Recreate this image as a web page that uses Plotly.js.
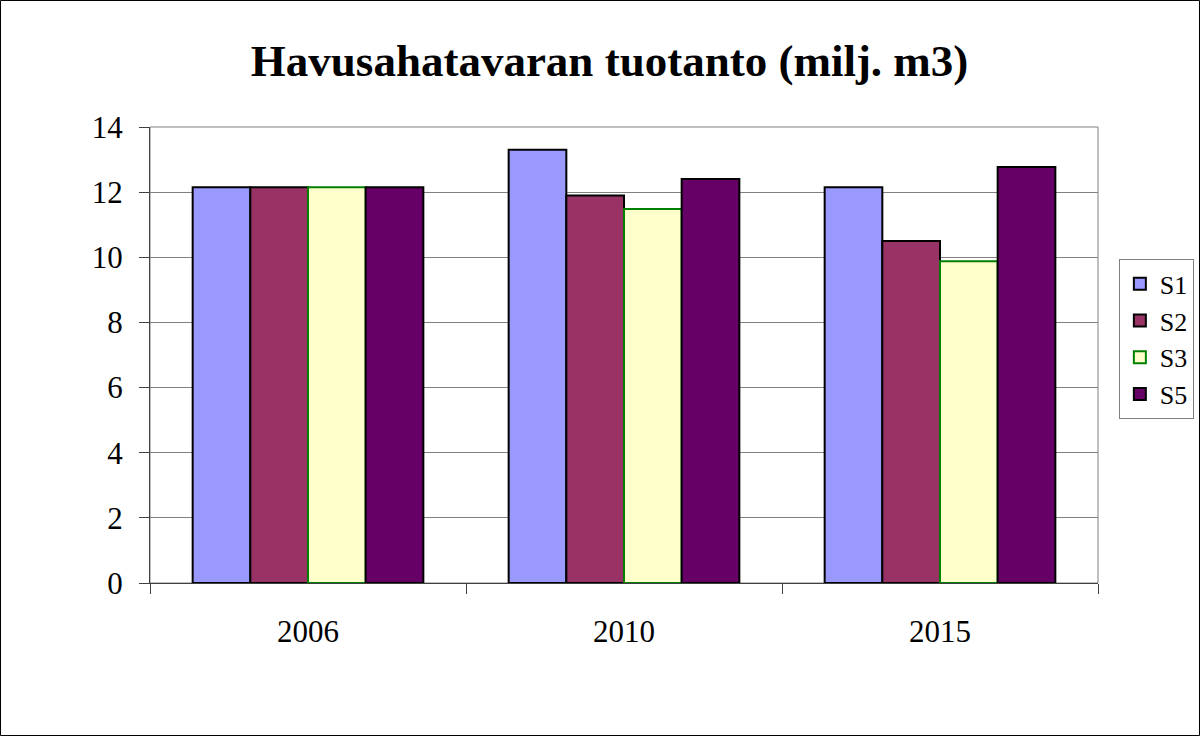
<!DOCTYPE html>
<html>
<head>
<meta charset="utf-8">
<script src="https://cdn.plot.ly/plotly-3.0.1.min.js"></script>
<style>
  body { margin: 0; background: #fff; overflow: hidden; }
  #chart { width: 1200px; height: 736px; }
</style>
</head>
<body>
<div id="chart"></div>
<script>
CHART = document.getElementById('chart');

// vuodet ja skenaariot
var years = ['2006', '2010', '2015'];
var seriesNames = ['S1', 'S2', 'S3', 'S5'];
var s1 = [12.15, 13.3, 12.15];
var s2 = [12.15, 11.9, 10.5];
var s3 = [12.15, 11.48, 9.88];
var s5 = [12.15, 12.4, 12.77];
var yTicks = [0, 2, 4, 6, 8, 10, 12, 14];

var fills = ['#9999FF', '#993366', '#FFFFCC', '#660066'];
var edges = ['#000000', '#000000', '#008000', '#000000'];
var values = [s1, s2, s3, s5];

var data = seriesNames.map(function (name, i) {
    return {
        x: years,
        y: values[i],
        type: 'bar',
        name: name,
        marker: {
            color: fills[i],
            line: {color: edges[i], width: 2}
        },
        hoverinfo: 'x+y+name'
    };
});

// marginaalit plot-alueen ympärillä
var m = {l: 150, r: 102, t: 127, b: 153, autoexpand: false};
var pw = 1200 - m.l - m.r;
var ph = 736 - m.t - m.b;

var layout = {
    width: 1200,
    height: 736,
    title: {
        text: '<b>Havusahatavaran tuotanto (milj. m3)</b>',
        font: {family: 'Liberation Serif, serif', size: 45, color: '#000'},
        x: 0.508,
        xanchor: 'center',
        xref: 'container',
        yref: 'container',
        y: 0.918,
        yanchor: 'middle'
    },
    font: {family: 'Liberation Serif, serif', size: 31, color: '#000'},
    paper_bgcolor: '#fff',
    plot_bgcolor: '#fff',
    margin: m,
    barmode: 'group',
    bargap: 0.27,
    bargroupgap: 0,
    xaxis: {
        type: 'category',
        tickson: 'boundaries',
        ticks: 'outside',
        ticklen: 10,
        tickwidth: 1,
        tickcolor: '#404040',
        showline: true,
        linecolor: '#404040',
        linewidth: 1,
        showgrid: false,
        ticklabelstandoff: 21,
        tickfont: {size: 31}
    },
    yaxis: {
        range: [0, 14],
        tickvals: yTicks,
        ticks: 'outside',
        ticklen: 10,
        tickwidth: 1,
        tickcolor: '#404040',
        showline: true,
        linecolor: '#404040',
        linewidth: 1,
        showgrid: true,
        gridcolor: '#808080',
        gridwidth: 1,
        zeroline: false,
        ticklabelstandoff: 10,
        tickfont: {size: 31}
    },
    legend: {
        x: 1.022,
        xanchor: 'left',
        y: 0.71,
        yanchor: 'top',
        bordercolor: '#808080',
        borderwidth: 1,
        bgcolor: '#fff',
        font: {size: 26},
        tracegroupgap: 0,
        itemwidth: 30
    },
    shapes: [
        // plot-alueen kehys
        {type: 'rect', xref: 'paper', yref: 'paper', x0: 0, x1: 1, y0: 0, y1: 1,
         line: {color: '#808080', width: 1}, layer: 'below'},
        // koko kuvan reunus
        {type: 'rect', xref: 'paper', yref: 'paper',
         x0: -(m.l - 0.5) / pw, x1: 1 + (m.r - 0.5) / pw,
         y0: -(m.b - 0.5) / ph, y1: 1 + (m.t - 0.5) / ph,
         line: {color: '#000', width: 1}}
    ]
};

Plotly.newPlot(CHART, data, layout, {displayModeBar: false});
</script>
</body>
</html>
